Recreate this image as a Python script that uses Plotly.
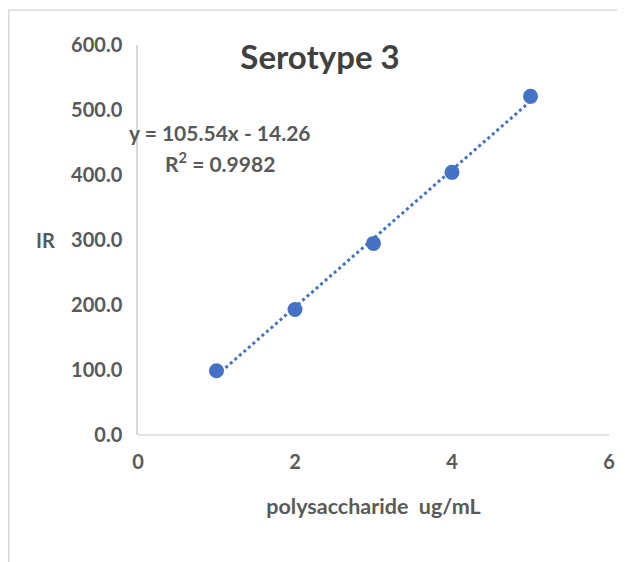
import numpy as np
import plotly.graph_objects as go

# Data
conc = [1, 2, 3, 4, 5]
ir = [98.86, 193.03, 294.78, 404.11, 521.02]
y_ticks = [0, 100, 200, 300, 400, 500, 600]
x_ticks = [0, 2, 4, 6]
title_text = "Serotype 3"
x_title = "polysaccharide\u00a0\u00a0ug/mL"
y_title = "IR"

slope, intercept = np.polyfit(conc, ir, 1)
fit = [slope * c + intercept for c in conc]
pred = np.array(fit)
obs = np.array(ir)
r2 = 1 - ((obs - pred) ** 2).sum() / ((obs - obs.mean()) ** 2).sum()

BLUE = "#4472C4"
GRAY = "#595959"
FONT = "Lato"

# figure-pixel geometry (page body adds an 8px offset)
W, H = 625, 562
L, R, T, B = 130, 24, 37, 135
PW, PH = W - L - R, H - T - B


def px(xp):
    return (xp - L) / PW


def py(yp):
    return (H - B - yp) / PH


fig = go.Figure()
fig.add_trace(go.Scatter(x=conc, y=fit, mode="lines",
                         line=dict(color=BLUE, width=3, dash="dot"),
                         hoverinfo="skip", showlegend=False))
fig.add_trace(go.Scatter(x=conc, y=ir, mode="markers",
                         marker=dict(color=BLUE, size=15), showlegend=False))

fig.update_layout(
    width=W, height=H,
    margin=dict(l=L, r=R, t=T, b=B),
    paper_bgcolor="white", plot_bgcolor="white",
    font=dict(family=FONT, color=GRAY),
    title=dict(text="<b>%s</b>" % title_text, x=312 / W, xanchor="center",
               y=1 - 49 / H, yanchor="middle",
               font=dict(size=33, color="#404040", family=FONT)),
)
fig.update_xaxes(range=[0, 6], tickvals=x_ticks,
                 ticktext=["<b>%d</b>" % v for v in x_ticks],
                 showgrid=False, zeroline=False, showline=False,
                 ticks="", ticklabelstandoff=13,
                 tickfont=dict(size=20, color=GRAY, family=FONT),
                 title=dict(text="<b>%s</b>" % x_title, standoff=26,
                            font=dict(size=21.5, color=GRAY, family=FONT)))
fig.update_yaxes(range=[0, 600], tickvals=y_ticks,
                 ticktext=["<b>%.1f</b>" % v for v in y_ticks],
                 showgrid=False, zeroline=False, showline=True,
                 linecolor="#D9D9D9", linewidth=1.5,
                 ticks="", ticklabelstandoff=10,
                 tickfont=dict(size=20, color=GRAY, family=FONT))

# x axis line at y = 0
fig.add_shape(type="line", xref="paper", yref="paper", x0=0, x1=1, y0=0, y1=0,
              line=dict(color="#D9D9D9", width=1.5))

# chart outer frame (left and top edges)
fx, fy = px(0.75), py(2)
fig.add_shape(type="line", xref="paper", yref="paper",
              x0=fx, x1=fx, y0=-0.4, y1=fy,
              line=dict(color="#D9D9D9", width=1.5))
fig.add_shape(type="line", xref="paper", yref="paper",
              x0=fx, x1=1.2, y0=fy, y1=fy,
              line=dict(color="#D9D9D9", width=1.5))

fig.add_annotation(text="<b>%s</b>" % y_title, xref="paper", yref="y",
                   x=px(37), y=300, showarrow=False, xanchor="center",
                   font=dict(size=20, color=GRAY, family=FONT))

eq = "y = %.2fx - %.2f" % (slope, abs(intercept))
fig.add_annotation(text="<b>%s</b>" % eq, xref="paper", yref="paper",
                   x=px(212), y=py(125), showarrow=False,
                   xanchor="center", yanchor="middle",
                   font=dict(size=21, color=GRAY, family=FONT))
fig.add_annotation(text="<b>R<sup>2</sup> = %.4f</b>" % r2, xref="paper", yref="paper",
                   x=px(212), y=py(154), showarrow=False,
                   xanchor="center", yanchor="middle",
                   font=dict(size=21, color=GRAY, family=FONT))

fig.write_html("out.html")
